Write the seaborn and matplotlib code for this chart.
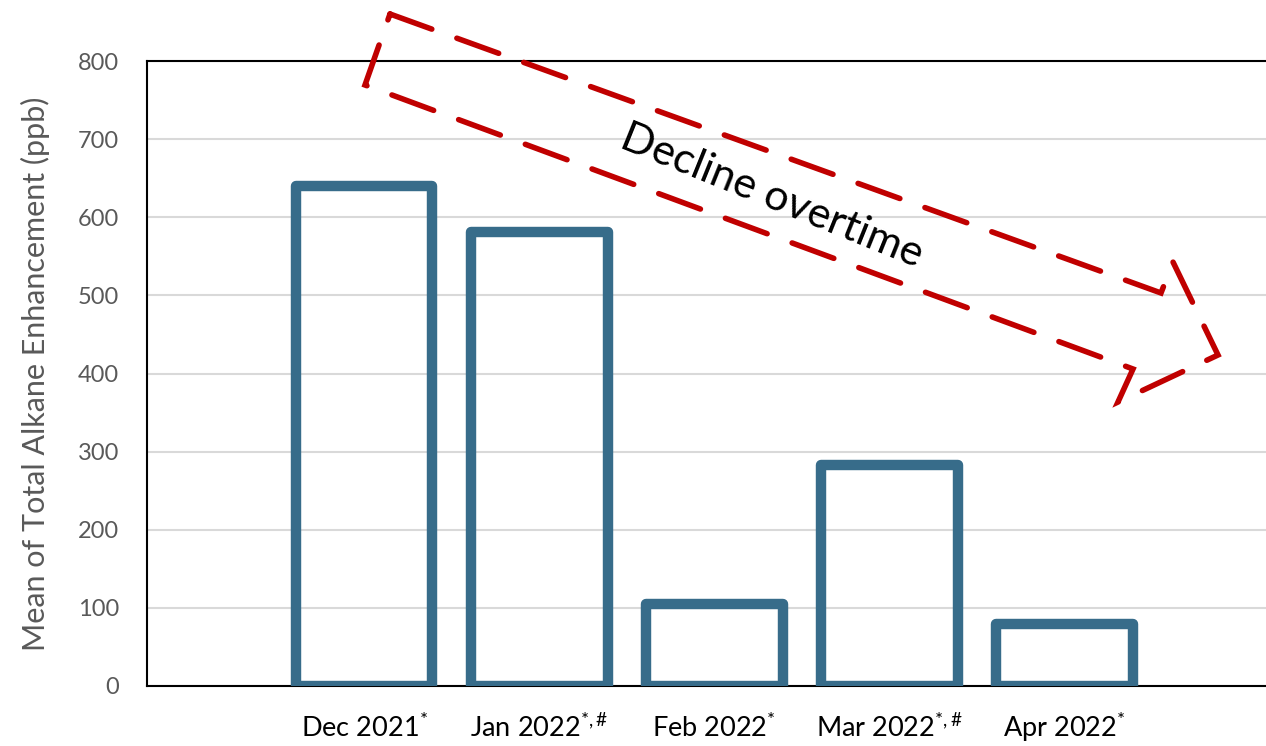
import matplotlib
matplotlib.use("Agg")
import matplotlib.pyplot as plt
from matplotlib.patches import Polygon
import seaborn as sns
import pandas as pd

# data
months = ["Dec 2021", "Jan 2022", "Feb 2022", "Mar 2022", "Apr 2022"]
marks = ["*", "*,\\#", "*", "*,\\#", "*"]
alkane_mean = [640, 581, 105, 283, 80]
y_ticks = [0, 100, 200, 300, 400, 500, 600, 700, 800]

BAR_COLOR = "#376C8A"
RED = "#C00000"

sns.set_theme(style="white")
plt.rcParams["font.family"] = ["Lato", "DejaVu Sans"]
plt.rcParams["mathtext.fontset"] = "custom"
plt.rcParams["mathtext.rm"] = "Lato"
plt.rcParams["mathtext.it"] = "Lato"
plt.rcParams["mathtext.default"] = "regular"

W, H = 1266, 746
fig = plt.figure(figsize=(W / 100, H / 100), dpi=100)
ax = fig.add_axes([147 / W, 60 / H, 1 - 147 / W, 625 / H])

df = pd.DataFrame({"month": months, "value": alkane_mean})
sns.barplot(data=df, x="month", y="value", color=BAR_COLOR, fill=False,
            width=0.78, linewidth=7.5, ax=ax, zorder=3)
for p in ax.patches:
    p.set_joinstyle("round")
    p.set_edgecolor(BAR_COLOR)

ax.set_xlim(-1.24, 5.15)
ax.set_ylim(0, 800)
ax.set_yticks(y_ticks)
ax.yaxis.grid(True, color="#D9D9D9", linewidth=1.5, zorder=0)
ax.set_axisbelow(True)

ax.set_xticks(range(len(months)))
ax.set_xticklabels([f"{m}$^{{{s}}}$" for m, s in zip(months, marks)],
                   fontsize=19.5, color="black")
for lab in ax.get_xticklabels():
    lab.set_verticalalignment("baseline")
ax.tick_params(axis="x", length=0, pad=37)
ax.tick_params(axis="y", length=0, pad=20, labelsize=17, labelcolor="#595959")
ax.set_xlabel("")
ax.set_ylabel("Mean of Total Alkane Enhancement (ppb)", fontsize=22,
              color="#595959", labelpad=20)

for side in ["left", "bottom", "top"]:
    ax.spines[side].set_color("black")
    ax.spines[side].set_linewidth(1.5)
ax.spines["right"].set_visible(False)

# dashed outline arrow annotation (figure pixel coordinates)
arrow_px = [(390, 14), (1161, 293), (1173, 262), (1218, 355),
            (1118, 402), (1133, 369), (365, 85)]
arrow_fig = [(x / W, 1 - y / H) for x, y in arrow_px]
fig.patches.append(Polygon(arrow_fig, closed=True, fill=False, edgecolor=RED,
                           linewidth=4, linestyle=(0, (8, 4.8)),
                           joinstyle="miter", capstyle="round",
                           transform=fig.transFigure))
fig.text(772 / W, 1 - 196 / H, "Decline overtime", fontsize=31, rotation=-22,
         ha="center", va="center", rotation_mode="anchor", color="black")

fig.savefig("out.png", dpi=100)
